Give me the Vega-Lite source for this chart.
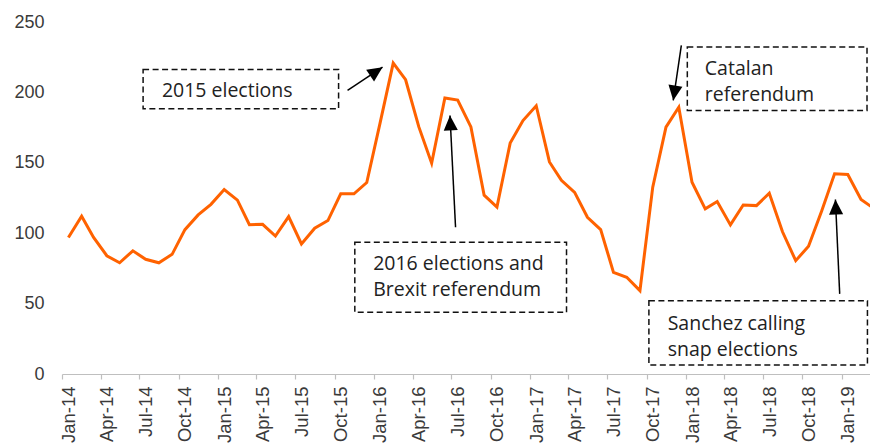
{
  "$schema": "https://vega.github.io/schema/vega-lite/v6.json",
  "autosize": "none",
  "width": 808,
  "height": 352,
  "padding": {"left": 62, "top": 22, "right": 0, "bottom": 69},
  "background": "white",
  "config": {"view": {"stroke": null}},
  "datasets": {
    "series": [
      {"date": "2014-01-01", "value": 97}, {"date": "2014-02-01", "value": 112}, {"date": "2014-03-01", "value": 97},
      {"date": "2014-04-01", "value": 84}, {"date": "2014-05-01", "value": 79}, {"date": "2014-06-01", "value": 87.5},
      {"date": "2014-07-01", "value": 81.5}, {"date": "2014-08-01", "value": 79}, {"date": "2014-09-01", "value": 85},
      {"date": "2014-10-01", "value": 102.5}, {"date": "2014-11-01", "value": 113}, {"date": "2014-12-01", "value": 120.5},
      {"date": "2015-01-01", "value": 131}, {"date": "2015-02-01", "value": 123.5}, {"date": "2015-03-01", "value": 106},
      {"date": "2015-04-01", "value": 106.3}, {"date": "2015-05-01", "value": 98}, {"date": "2015-06-01", "value": 111.8},
      {"date": "2015-07-01", "value": 92.4}, {"date": "2015-08-01", "value": 103.5}, {"date": "2015-09-01", "value": 109},
      {"date": "2015-10-01", "value": 128}, {"date": "2015-11-01", "value": 128}, {"date": "2015-12-01", "value": 136},
      {"date": "2016-01-01", "value": 178}, {"date": "2016-02-01", "value": 220.8}, {"date": "2016-03-01", "value": 209},
      {"date": "2016-04-01", "value": 175.5}, {"date": "2016-05-01", "value": 149.7}, {"date": "2016-06-01", "value": 196},
      {"date": "2016-07-01", "value": 194.5}, {"date": "2016-08-01", "value": 175.5}, {"date": "2016-09-01", "value": 127},
      {"date": "2016-10-01", "value": 118.5}, {"date": "2016-11-01", "value": 164}, {"date": "2016-12-01", "value": 180},
      {"date": "2017-01-01", "value": 190.5}, {"date": "2017-02-01", "value": 150.6}, {"date": "2017-03-01", "value": 137.6},
      {"date": "2017-04-01", "value": 129}, {"date": "2017-05-01", "value": 111.3}, {"date": "2017-06-01", "value": 102.6},
      {"date": "2017-07-01", "value": 72.2}, {"date": "2017-08-01", "value": 68.7}, {"date": "2017-09-01", "value": 59.2},
      {"date": "2017-10-01", "value": 132.7}, {"date": "2017-11-01", "value": 175.3}, {"date": "2017-12-01", "value": 189.5},
      {"date": "2018-01-01", "value": 136.2}, {"date": "2018-02-01", "value": 117.3}, {"date": "2018-03-01", "value": 122.5},
      {"date": "2018-04-01", "value": 105.9}, {"date": "2018-05-01", "value": 120}, {"date": "2018-06-01", "value": 119.6},
      {"date": "2018-07-01", "value": 128.4}, {"date": "2018-08-01", "value": 101}, {"date": "2018-09-01", "value": 80.5},
      {"date": "2018-10-01", "value": 90.7}, {"date": "2018-11-01", "value": 116}, {"date": "2018-12-01", "value": 142.2},
      {"date": "2019-01-01", "value": 141.7}, {"date": "2019-02-01", "value": 123.9}, {"date": "2019-03-01", "value": 118}
    ],
    "boxes": [
      {"x1": "2014-06-25", "x2": "2015-09-26", "y1": 216.3, "y2": 188.4},
      {"x1": "2015-11-03", "x2": "2017-03-13", "y1": 93.5, "y2": 43.8},
      {"x1": "2017-12-21", "x2": "2019-02-15", "y1": 232.2, "y2": 187.2},
      {"x1": "2017-09-22", "x2": "2019-02-16", "y1": 52.1, "y2": 6.4}
    ],
    "labels": [
      {"date": "2014-08-08", "value": 200.7, "label": "2015 elections"},
      {"date": "2015-12-16", "value": 78.2, "label": "2016 elections and\nBrexit referendum"},
      {"date": "2018-01-31", "value": 216.8, "label": "Catalan\nreferendum"},
      {"date": "2017-11-05", "value": 35.5, "label": "Sanchez calling\nsnap elections"}
    ],
    "arrows": [
      {"id": "a1", "x1": "2015-10-17", "y1": 201.4, "x2": "2016-01-07", "y2": 217.9},
      {"id": "a2", "x1": "2016-06-26", "y1": 104.2, "x2": "2016-06-13", "y2": 183.6},
      {"id": "a3", "x1": "2017-12-07", "y1": 233.4, "x2": "2017-11-18", "y2": 194.3},
      {"id": "a4", "x1": "2018-12-13", "y1": 56.9, "x2": "2018-12-03", "y2": 123.9}
    ]
  },
  "layer": [
    {
      "data": {"name": "series"},
      "mark": {"type": "line", "color": "#FF6200", "strokeWidth": 3, "clip": true},
      "encoding": {
        "x": {
          "field": "date", "type": "temporal",
          "scale": {"type": "utc", "domain": [{"year": 2013, "month": 12, "date": 17, "utc": true}, {"year": 2019, "month": 2, "date": 22, "utc": true}]},
          "axis": {
            "title": null, "grid": false, "format": "%b-%y",
            "tickCount": {"interval": "month", "step": 3},
            "labelAngle": -90, "labelAlign": "right", "labelBaseline": "middle",
            "labelFont": "Liberation Sans", "labelFontSize": 18.5, "labelColor": "#3a3a3a",
            "labelPadding": 7, "labelOverlap": false, "labelFlush": false, "labelBound": false,
            "tickOffset": -6.2, "labelOffset": 6.2,
            "tickSize": 5, "tickColor": "#bfbfbf", "domainColor": "#bfbfbf", "domainWidth": 1.2, "tickWidth": 1.2
          }
        },
        "y": {
          "field": "value", "type": "quantitative",
          "scale": {"domain": [0, 250], "nice": false},
          "axis": {
            "title": null, "grid": false, "domain": false, "ticks": false,
            "values": [0, 50, 100, 150, 200, 250],
            "labelFont": "Liberation Sans", "labelFontSize": 18, "labelColor": "#3a3a3a",
            "labelPadding": 18
          }
        }
      }
    },
    {
      "data": {"name": "boxes"},
      "mark": {"type": "rect", "fill": "white", "fillOpacity": 0, "stroke": "#111111", "strokeWidth": 1.5, "strokeDash": [6, 3.5]},
      "encoding": {
        "x": {"field": "x1", "type": "temporal"},
        "x2": {"field": "x2"},
        "y": {"field": "y1", "type": "quantitative"},
        "y2": {"field": "y2"}
      }
    },
    {
      "data": {"name": "labels"},
      "mark": {"type": "text", "align": "left", "baseline": "middle", "font": "Open Sans", "fontSize": 19.5, "color": "#222222", "lineBreak": "\n", "lineHeight": 26},
      "encoding": {
        "x": {"field": "date", "type": "temporal"},
        "y": {"field": "value", "type": "quantitative"},
        "text": {"field": "label"}
      }
    },
    {
      "data": {"name": "arrows"},
      "mark": {"type": "rule", "color": "black", "strokeWidth": 1.5},
      "encoding": {
        "x": {"field": "x1", "type": "temporal"},
        "x2": {"field": "x2"},
        "y": {"field": "y1", "type": "quantitative"},
        "y2": {"field": "y2"}
      }
    },
    {
      "data": {"name": "arrows"},
      "transform": [{"filter": "datum.id == 'a1'"}],
      "mark": {"type": "point", "shape": "M0,0 L-0.47,1 L0.47,1 Z", "filled": true, "size": 900, "angle": 56, "color": "black", "opacity": 1},
      "encoding": {"x": {"field": "x2", "type": "temporal"}, "y": {"field": "y2", "type": "quantitative"}}
    },
    {
      "data": {"name": "arrows"},
      "transform": [{"filter": "datum.id == 'a2'"}],
      "mark": {"type": "point", "shape": "M0,0 L-0.47,1 L0.47,1 Z", "filled": true, "size": 900, "angle": -3, "color": "black", "opacity": 1},
      "encoding": {"x": {"field": "x2", "type": "temporal"}, "y": {"field": "y2", "type": "quantitative"}}
    },
    {
      "data": {"name": "arrows"},
      "transform": [{"filter": "datum.id == 'a3'"}],
      "mark": {"type": "point", "shape": "M0,0 L-0.47,1 L0.47,1 Z", "filled": true, "size": 900, "angle": 188.5, "color": "black", "opacity": 1},
      "encoding": {"x": {"field": "x2", "type": "temporal"}, "y": {"field": "y2", "type": "quantitative"}}
    },
    {
      "data": {"name": "arrows"},
      "transform": [{"filter": "datum.id == 'a4'"}],
      "mark": {"type": "point", "shape": "M0,0 L-0.47,1 L0.47,1 Z", "filled": true, "size": 900, "angle": -2.6, "color": "black", "opacity": 1},
      "encoding": {"x": {"field": "x2", "type": "temporal"}, "y": {"field": "y2", "type": "quantitative"}}
    }
  ]
}
